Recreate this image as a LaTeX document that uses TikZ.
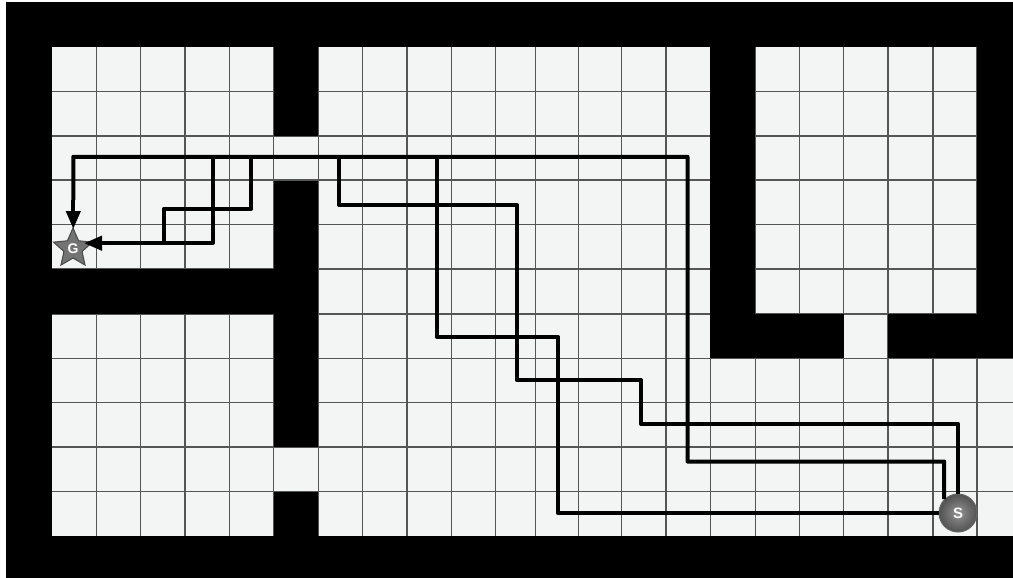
\documentclass[tikz,border=0pt]{standalone}
\usepackage{fontspec}
\setmainfont{Liberation Sans}
\usetikzlibrary{arrows.meta,shapes.geometric}
\definecolor{cellfill}{HTML}{F3F4F4}
\definecolor{gridline}{HTML}{555555}
\tikzset{
  x=1pt,y=-1pt,
  wall/.style={fill=black,draw=none},
  gridstroke/.style={draw=gridline,line width=1.25pt},
  route/.style={draw=black,line width=4pt,line join=round},
  routetip/.style={-{Triangle[length=18pt,width=14pt]}},
  startball/.style={circle,minimum size=38pt,inner sep=0pt,draw=black!60,line width=1pt,
    inner color=black!42,outer color=black!68,text=white,font=\bfseries\fontsize{15}{15}\selectfont},
  goalstar/.style={star,star points=5,star point ratio=2.15,minimum size=41pt,inner sep=0pt,
    draw=black!72,line width=1pt,fill=black!55,text=white,font=\bfseries\fontsize{14}{14}\selectfont},
}
\begin{document}
\begin{tikzpicture}
\useasboundingbox (0,0) rectangle (1013,578);
\fill[white] (0,0) rectangle (1013,578);
\fill[cellfill] (6,2) rectangle (1013,578);
% grid lines
\foreach \gx in {96.3,140.7,185,229.3,273.5,318.3,362.3,407,451.3,495.8,535.3,578.5,621.7,666,710.3,755.3,799.3,843.7,888,933,977}
  \draw[gridstroke] (\gx,47) -- (\gx,536);
\foreach \gy in {91.3,136,180,224.5,269,314,358.3,402.3,447,491.5}
  \draw[gridstroke] (50,\gy) -- (1013,\gy);
% walls
\fill[wall] (6,2) rectangle (1013,47.5);
\fill[wall] (6,2) rectangle (52,578);
\fill[wall] (6,535.5) rectangle (1013,578);
\fill[wall] (273.5,47.5) rectangle (318.3,135.5);
\fill[wall] (273.5,180.5) rectangle (318.3,447);
\fill[wall] (273.5,491.5) rectangle (318.3,535.5);
\fill[wall] (52,269) rectangle (273.5,314);
\fill[wall] (710.3,47.5) rectangle (755.3,358);
\fill[wall] (755.3,314) rectangle (843.7,358);
\fill[wall] (888,314) rectangle (1013,358);
\fill[wall] (977,47.5) rectangle (1013,314);
% start and goal
\node[goalstar] (G) at (73,248.5) {G};
\node[startball] (S) at (958,513) {S};
% junctions on the shared corridor
\coordinate (top) at (73.3,156.8);
\coordinate (jA) at (339,156.8);
\coordinate (jC) at (436.7,156.8);
\coordinate (jB) at (687.5,156.8);
\coordinate (jD) at (212.5,156.8);
\coordinate (jE) at (251.3,156.8);
\coordinate (Gt) at (73.3,229);
\coordinate (Gr) at (84,243.2);
\coordinate (mD) at (212.5,243.2);
\coordinate (mE) at (163.7,243.2);
% routes
\draw[route] (S.north) -- (958,423.8) -- (641,423.8) -- (641,380.3) -- (517,380.3) -- (517,205) -- (339,205) -- (jA);
\draw[route] (S.west) -- (557.7,513) -- (557.7,336.8) -- (436.7,336.8) -- (jC);
\draw[route] (S.135) -- (944.2,461.5) -- (687.5,461.5) -- (jB) -- (top) -- (73.3,200);
\draw[route] (jE) -- (251.3,208.8) -- (163.7,208.8) -- (mE);
\draw[route] (jD) -- (mD) -- (110,243.2);
\draw[route,routetip] (73.3,200) -- (Gt);
\draw[route,routetip] (110,243.2) -- (Gr);
\end{tikzpicture}
\end{document}
